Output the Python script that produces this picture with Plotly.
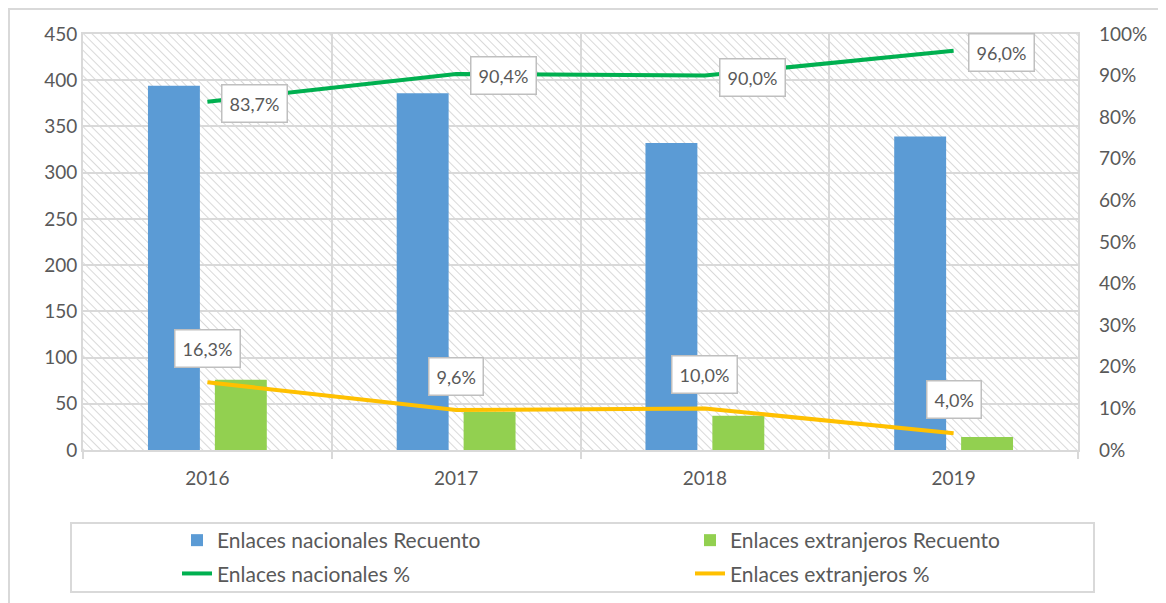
import base64
import plotly.graph_objects as go

years = ["2016", "2017", "2018", "2019"]
nac_count = [394, 386, 332, 339]
ext_count = [76, 41, 37, 14]
nac_pct = [83.7, 90.4, 90.0, 96.0]
ext_pct = [16.3, 9.6, 10.0, 4.0]
nac_lbl = ["83,7%", "90,4%", "90,0%", "96,0%"]
ext_lbl = ["16,3%", "9,6%", "10,0%", "4,0%"]
left_ticks = [0, 50, 100, 150, 200, 250, 300, 350, 400, 450]
right_ticks = [0, 10, 20, 30, 40, 50, 60, 70, 80, 90, 100]
right_labels = ["0%", "10%", "20%", "30%", "40%", "50%", "60%", "70%", "80%", "90%", "100%"]

FONT = "Lato, 'Open Sans', sans-serif"
GREY = "#595959"
GRID = "#d9d9d9"

# page has an 8px body margin: plot area should land at page x 83..1078, y 34..450
OFF = 8
PL, PT, PW, PH = 83 - OFF, 34 - OFF, 995, 416


def px(xp):  # page x -> paper fraction
    return (xp - 83) / PW


def py(yp):  # page y -> paper fraction
    return (450 - yp) / PH


hatch_svg = (
    '<svg xmlns="http://www.w3.org/2000/svg" width="995" height="416" '
    'viewBox="0 0 995 416" preserveAspectRatio="none">'
    '<defs><pattern id="p" width="6" height="6" patternUnits="userSpaceOnUse" '
    'patternTransform="rotate(-45)">'
    '<line x1="0" y1="0" x2="0" y2="6" stroke="#cfcfcf" stroke-width="1.6"/>'
    '</pattern></defs>'
    '<rect width="995" height="416" fill="url(#p)"/></svg>'
)
hatch_uri = "data:image/svg+xml;base64," + base64.b64encode(hatch_svg.encode()).decode()

fig = go.Figure()

fig.add_trace(go.Bar(x=years, y=nac_count, name="Enlaces nacionales Recuento",
                     marker=dict(color="#5B9BD5", line=dict(width=0)),
                     legend="legend", legendgroup="a"))
fig.add_trace(go.Bar(x=years, y=ext_count, name="Enlaces extranjeros Recuento",
                     marker=dict(color="#92D050", line=dict(width=0)),
                     legend="legend2", legendgroup="b"))
fig.add_trace(go.Scatter(x=years, y=nac_pct, name="Enlaces nacionales %", mode="lines",
                         line=dict(color="#00B050", width=4),
                         yaxis="y2", legend="legend", legendgroup="c"))
fig.add_trace(go.Scatter(x=years, y=ext_pct, name="Enlaces extranjeros %", mode="lines",
                         line=dict(color="#FFC000", width=4),
                         yaxis="y2", legend="legend2", legendgroup="d"))

annotations = []
for i, (v, t) in enumerate(zip(nac_pct, nac_lbl)):
    annotations.append(dict(x=i, y=v, xref="x", yref="y2", text=t, showarrow=False,
                            xanchor="left", yanchor="middle", xshift=14, yshift=-2,
                            bgcolor="white", bordercolor="#bfbfbf", borderwidth=1.5,
                            borderpad=7, font=dict(family=FONT, size=18, color=GREY)))
for i, (v, t) in enumerate(zip(ext_pct, ext_lbl)):
    annotations.append(dict(x=i, y=v, xref="x", yref="y2", text=t, showarrow=False,
                            xanchor="center", yanchor="bottom", yshift=14,
                            bgcolor="white", bordercolor="#bfbfbf", borderwidth=1.5,
                            borderpad=7, font=dict(family=FONT, size=18, color=GREY)))

fig.update_layout(
    width=1166, height=603,
    margin=dict(l=PL, r=1166 - PL - PW, t=PT, b=603 - PT - PH, autoexpand=False),
    paper_bgcolor="white", plot_bgcolor="rgba(0,0,0,0)",
    font=dict(family=FONT, color=GREY),
    barmode="group", bargap=0.462, bargroupgap=0.224,
    xaxis=dict(type="category", categoryorder="array", categoryarray=years,
               range=[-0.5, len(years) - 0.5],
               showgrid=True, gridcolor=GRID, gridwidth=1.5, tickson="boundaries",
               ticks="outside", ticklen=7, tickcolor=GRID, tickwidth=1.5,
               showline=True, linecolor=GRID, linewidth=2, mirror=True,
               ticklabelstandoff=10,
               tickfont=dict(family=FONT, size=19, color=GREY)),
    yaxis=dict(range=[0, 450], tickmode="array", tickvals=left_ticks,
               showgrid=True, gridcolor=GRID, gridwidth=2, zeroline=False,
               showline=True, linecolor=GRID, linewidth=2, mirror=True,
               ticks="", tickfont=dict(family=FONT, size=19, color=GREY)),
    yaxis2=dict(overlaying="y", side="right", range=[0, 100],
                tickmode="array", tickvals=right_ticks, ticktext=right_labels,
                showgrid=False, zeroline=False, showline=False, ticks="",
                ticklabelstandoff=20,
                tickfont=dict(family=FONT, size=19, color=GREY)),
    legend=dict(x=px(177), y=py(520), xanchor="left", yanchor="top",
                orientation="v", tracegroupgap=3, bgcolor="rgba(0,0,0,0)",
                font=dict(family=FONT, size=21, color=GREY)),
    legend2=dict(x=px(690), y=py(520), xanchor="left", yanchor="top",
                 orientation="v", tracegroupgap=3, bgcolor="rgba(0,0,0,0)",
                 font=dict(family=FONT, size=21, color=GREY)),
    annotations=annotations,
    images=[dict(source=hatch_uri, xref="paper", yref="paper", x=0, y=1,
                 sizex=1, sizey=1, sizing="stretch", xanchor="left", yanchor="top",
                 layer="below")],
    shapes=[
        dict(type="rect", xref="paper", yref="paper",
             x0=px(71), x1=px(1094), y0=py(592), y1=py(523),
             line=dict(color=GRID, width=2), fillcolor="rgba(0,0,0,0)", layer="below"),
        dict(type="rect", xref="paper", yref="paper",
             x0=px(9), x1=px(1185), y0=py(620), y1=py(9),
             line=dict(color=GRID, width=2), fillcolor="rgba(0,0,0,0)", layer="below"),
    ],
)

fig.write_html("out.html")
